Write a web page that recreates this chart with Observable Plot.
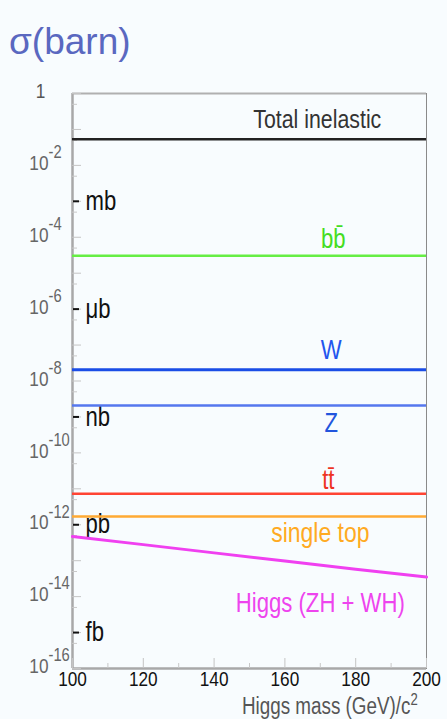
<!DOCTYPE html>
<html>
<head>
<meta charset="utf-8">
<script src="https://cdn.jsdelivr.net/npm/d3@7"></script>
<script src="https://cdn.jsdelivr.net/npm/@observablehq/plot@0.6"></script>
<style>
  html, body { margin: 0; padding: 0; background: #f8fcfe; }
  #title { font: 37px "Liberation Sans", Arial, sans-serif; line-height: 84px; height: 70px; padding-left: 9px; color: #5a68c0; overflow: visible; }
  #chart svg { display: block; }
</style>
</head>
<body>
<div id="title">σ(barn)</div>
<div id="chart"></div>
<script>
// ---- data ----
const processes = ["Total inelastic", "bb\u0304", "W", "Z", "tt\u0304", "single top"];
const crossSections = [0.053, 3.05e-5, 2.05e-8, 2.08e-9, 7.25e-12, 1.7e-12]; // barn
const processColors = ["#222222", "#66ee44", "#1a4de6", "#5577ee", "#ff4433", "#ffaa33"];
const labelColors = ["#333333", "#44dd22", "#2255ee", "#2255dd", "#ee3322", "#ffaa22"];

const higgsMass = [100, 120, 140, 160, 180, 200]; // GeV/c^2
const higgsXsec = [4.7e-13, 2.8e-13, 1.65e-13, 9.8e-14, 5.8e-14, 3.5e-14]; // barn
const higgsLabel = "Higgs (ZH + WH)";

const unitLabels = ["mb", "μb", "nb", "pb", "fb"];
const unitValues = [1e-3, 1e-6, 1e-9, 1e-12, 1e-15];

const yTickExponents = [0, -2, -4, -6, -8, -10, -12, -14, -16];
const xTickLabels = [100, 120, 140, 160, 180, 200];
const xMinorTicks = [110, 130, 150, 170, 190];
const xTitle = "Higgs mass (GeV)/c";

// ---- layout ----
const W = 447, H = 649;
const mL = 72, mR = 21, mT = 23, mB = 51;
const fw = W - mL - mR, fh = H - mT - mB;
const font = "'Liberation Sans', Arial, sans-serif";

const decades = d3.range(0, -17, -1).map(e => 10 ** e);
const halfDecades = d3.range(0, -16, -1).map(e => 5 * 10 ** (e - 1));

const rows = processes.map((p, i) => ({p, v: crossSections[i], stroke: processColors[i], fill: labelColors[i]}));
const higgs = higgsMass.map((m, i) => ({m, v: higgsXsec[i]}));

// label offsets (pixels) relative to each line, at the label column
const labelDy = [-20, -16, -19, 18, -13, 17];
const labelDx = [-3, 13, 11, 11, 8, 0];
const labelSize = [26, 27, 27, 27, 27, 28];
const labelMass = 170;

const labelMarks = rows.map((r, i) => Plot.text([r], {
  x: () => labelMass, y: "v", text: "p", fill: "fill",
  dx: labelDx[i], dy: labelDy[i], fontSize: labelSize[i], fontFamily: font,
  textAnchor: "middle", lineAnchor: "middle"
}));

const higgsAt = d3.scaleLinear().domain(higgsMass).range(higgsXsec.map(Math.log10));

const chart = Plot.plot({
  width: W, height: H,
  marginLeft: mL, marginRight: mR, marginTop: mT, marginBottom: mB,
  style: {background: "transparent", overflow: "visible"},
  x: {domain: [100, 200], axis: null},
  y: {type: "log", domain: [1e-16, 1], axis: null},
  marks: [
    // frame
    Plot.frame({stroke: "#8a8a8a", strokeWidth: 1}),
    Plot.ruleX([100], {stroke: "#a8a8a8", strokeWidth: 2.5}),
    Plot.ruleY([1e-16], {stroke: "#a8a8a8", strokeWidth: 2.5}),
    Plot.ruleY([1], {stroke: "#b0b0b0", strokeWidth: 2}),
    // y minor ticks (inside)
    Plot.ruleY(decades, {stroke: "#c4c4c4", strokeWidth: 1, insetRight: fw - 9}),
    Plot.ruleY(halfDecades, {stroke: "#c8c8c8", strokeWidth: 1, insetRight: fw - 5}),
    // x ticks (inside)
    Plot.ruleX(xTickLabels, {stroke: "#c4c4c4", strokeWidth: 1, insetTop: fh - 10}),
    Plot.ruleX(xMinorTicks, {stroke: "#c8c8c8", strokeWidth: 1, insetTop: fh - 5}),
    // unit ticks and labels
    Plot.ruleY(unitValues, {stroke: "#111", strokeWidth: 2, insetLeft: 1, insetRight: fw - 7}),
    Plot.text(unitLabels, {y: (d, i) => unitValues[i], text: d => d, frameAnchor: "left", dx: 13,
      textAnchor: "start", lineAnchor: "middle", fontSize: 27, fontFamily: font, fill: "#111"}),
    // process lines
    Plot.ruleY(rows, {y: "v", stroke: "stroke", strokeWidth: (d, i) => i === 2 ? 3 : 2.5}),
    // higgs curve
    Plot.line(higgs, {x: "m", y: "v", stroke: "#f040f0", strokeWidth: 3}),
    Plot.text([higgsLabel], {x: () => labelMass, y: () => 10 ** higgsAt(labelMass),
      text: d => d, dy: 38, fill: "#ee44ee", fontSize: 27, fontFamily: font, textAnchor: "middle", lineAnchor: "middle"}),
    ...labelMarks,
    // y tick labels
    Plot.text(yTickExponents.filter(e => e === 0), {y: e => 10 ** e, text: () => "1", frameAnchor: "left",
      dx: -32, dy: -2, textAnchor: "middle", lineAnchor: "middle", fontSize: 21, fontFamily: font, fill: "#555"}),
    Plot.text(yTickExponents.filter(e => e < 0), {y: e => 10 ** e, text: () => "10", frameAnchor: "left",
      dx: -24, dy: -2, textAnchor: "end", lineAnchor: "middle", fontSize: 21, fontFamily: font, fill: "#666"}),
    Plot.text(yTickExponents.filter(e => e < 0), {y: e => 10 ** e, text: e => "-" + (-e), frameAnchor: "left",
      dx: -24, dy: -13, textAnchor: "start", lineAnchor: "middle", fontSize: 18, fontFamily: font, fill: "#666"}),
    // x tick labels
    Plot.text(xTickLabels, {x: d => d, text: d => String(d), frameAnchor: "bottom", dy: 11,
      textAnchor: "middle", lineAnchor: "middle", fontSize: 21, fontFamily: font, fill: "#111"}),
    // x title
    Plot.text([xTitle], {x: () => 200, text: d => d, frameAnchor: "bottom", dx: -16, dy: 38,
      textAnchor: "end", lineAnchor: "middle", fontSize: 23, fontFamily: font, fill: "#555"}),
    Plot.text(["2"], {x: () => 200, text: d => d, frameAnchor: "bottom", dx: -16, dy: 31,
      textAnchor: "start", lineAnchor: "middle", fontSize: 16, fontFamily: font, fill: "#555"})
  ]
});

// condense all chart texts horizontally (the reference uses a narrow face)
d3.select(chart).selectAll("text").each(function() {
  let t = this.getAttribute("transform") || "";
  const xa = this.getAttribute("x");
  if (xa !== null && /^-?[\d.]+$/.test(xa)) {
    t += ` translate(${+xa},0)`;
    this.removeAttribute("x");
  }
  this.setAttribute("transform", `${t} scale(0.82,1)`.trim());
});
document.getElementById("chart").appendChild(chart);
</script>
</body>
</html>
